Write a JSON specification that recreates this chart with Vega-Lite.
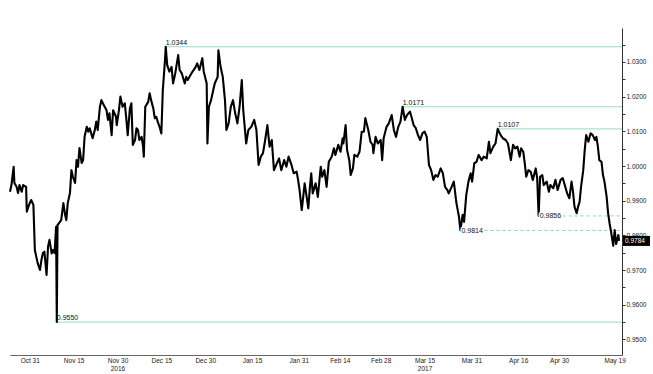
{
  "$schema": "https://vega.github.io/schema/vega-lite/v6.json",
  "width": 612,
  "height": 327,
  "autosize": {"type": "none"},
  "padding": {"left": 10, "top": 28, "right": 31, "bottom": 19},
  "background": "white",
  "config": {"view": {"stroke": null}, "font": "Liberation Sans"},
  "datasets": {
    "price": [
      {"date":"2016-10-24T06:00","value":0.9926},{"date":"2016-10-24T18:00","value":0.9945},{"date":"2016-10-25T12:00","value":0.9998},{"date":"2016-10-25T18:00","value":0.9951},{"date":"2016-10-26T12:00","value":0.9940},{"date":"2016-10-27T00:00","value":0.9922},{"date":"2016-10-27T12:00","value":0.9945},{"date":"2016-10-28T06:00","value":0.9926},{"date":"2016-10-28T18:00","value":0.9945},{"date":"2016-10-29T18:00","value":0.9940},{"date":"2016-10-30T00:00","value":0.9868},{"date":"2016-10-30T18:00","value":0.9888},{"date":"2016-10-31T12:00","value":0.9902},{"date":"2016-11-01T06:00","value":0.9888},{"date":"2016-11-01T18:00","value":0.9758},{"date":"2016-11-02T06:00","value":0.9738},{"date":"2016-11-02T18:00","value":0.9719},{"date":"2016-11-03T12:00","value":0.9700},{"date":"2016-11-04T00:00","value":0.9729},{"date":"2016-11-04T12:00","value":0.9749},{"date":"2016-11-05T00:00","value":0.9753},{"date":"2016-11-05T18:00","value":0.9686},{"date":"2016-11-06T06:00","value":0.9767},{"date":"2016-11-06T18:00","value":0.9787},{"date":"2016-11-07T12:00","value":0.9748},{"date":"2016-11-08T00:00","value":0.9758},{"date":"2016-11-08T12:00","value":0.9749},{"date":"2016-11-09T00:00","value":0.9825},{"date":"2016-11-09T06:00","value":0.9550},{"date":"2016-11-09T12:00","value":0.9830},{"date":"2016-11-10T00:00","value":0.9835},{"date":"2016-11-10T18:00","value":0.9844},{"date":"2016-11-11T12:00","value":0.9893},{"date":"2016-11-12T00:00","value":0.9864},{"date":"2016-11-12T12:00","value":0.9844},{"date":"2016-11-13T00:00","value":0.9893},{"date":"2016-11-13T18:00","value":0.9922},{"date":"2016-11-14T06:00","value":0.9988},{"date":"2016-11-14T18:00","value":0.9969},{"date":"2016-11-15T12:00","value":0.9951},{"date":"2016-11-16T00:00","value":1.0017},{"date":"2016-11-16T12:00","value":0.9998},{"date":"2016-11-17T00:00","value":1.0052},{"date":"2016-11-17T18:00","value":1.0009},{"date":"2016-11-18T06:00","value":1.0017},{"date":"2016-11-18T18:00","value":1.0084},{"date":"2016-11-19T12:00","value":1.0113},{"date":"2016-11-20T00:00","value":1.0099},{"date":"2016-11-20T12:00","value":1.0109},{"date":"2016-11-21T12:00","value":1.0080},{"date":"2016-11-22T06:00","value":1.0104},{"date":"2016-11-22T18:00","value":1.0128},{"date":"2016-11-23T06:00","value":1.0104},{"date":"2016-11-24T00:00","value":1.0171},{"date":"2016-11-24T12:00","value":1.0190},{"date":"2016-11-25T00:00","value":1.0181},{"date":"2016-11-26T06:00","value":1.0161},{"date":"2016-11-26T18:00","value":1.0133},{"date":"2016-11-27T06:00","value":1.0152},{"date":"2016-11-28T00:00","value":1.0089},{"date":"2016-11-28T12:00","value":1.0161},{"date":"2016-11-29T12:00","value":1.0142},{"date":"2016-11-29T18:00","value":1.0118},{"date":"2016-11-30T12:00","value":1.0161},{"date":"2016-12-01T00:00","value":1.0200},{"date":"2016-12-01T18:00","value":1.0171},{"date":"2016-12-02T12:00","value":1.0181},{"date":"2016-12-03T00:00","value":1.0138},{"date":"2016-12-03T12:00","value":1.0089},{"date":"2016-12-04T06:00","value":1.0166},{"date":"2016-12-04T18:00","value":1.0181},{"date":"2016-12-05T06:00","value":1.0061},{"date":"2016-12-06T00:00","value":1.0075},{"date":"2016-12-06T12:00","value":1.0109},{"date":"2016-12-07T00:00","value":1.0104},{"date":"2016-12-07T12:00","value":1.0075},{"date":"2016-12-08T06:00","value":1.0084},{"date":"2016-12-08T18:00","value":1.0056},{"date":"2016-12-09T00:00","value":1.0027},{"date":"2016-12-09T12:00","value":1.0171},{"date":"2016-12-10T12:00","value":1.0185},{"date":"2016-12-11T00:00","value":1.0210},{"date":"2016-12-11T12:00","value":1.0190},{"date":"2016-12-12T06:00","value":1.0166},{"date":"2016-12-12T18:00","value":1.0138},{"date":"2016-12-13T06:00","value":1.0142},{"date":"2016-12-13T18:00","value":1.0128},{"date":"2016-12-14T12:00","value":1.0110},{"date":"2016-12-15T00:00","value":1.0094},{"date":"2016-12-15T12:00","value":1.0219},{"date":"2016-12-16T06:00","value":1.0306},{"date":"2016-12-16T12:00","value":1.0344},{"date":"2016-12-17T00:00","value":1.0291},{"date":"2016-12-17T18:00","value":1.0272},{"date":"2016-12-18T12:00","value":1.0286},{"date":"2016-12-19T00:00","value":1.0238},{"date":"2016-12-19T18:00","value":1.0267},{"date":"2016-12-20T18:00","value":1.0320},{"date":"2016-12-21T06:00","value":1.0277},{"date":"2016-12-22T00:00","value":1.0267},{"date":"2016-12-23T00:00","value":1.0238},{"date":"2016-12-23T12:00","value":1.0257},{"date":"2016-12-24T00:00","value":1.0248},{"date":"2016-12-25T06:00","value":1.0267},{"date":"2016-12-26T12:00","value":1.0282},{"date":"2016-12-27T06:00","value":1.0296},{"date":"2016-12-28T00:00","value":1.0277},{"date":"2016-12-29T00:00","value":1.0311},{"date":"2016-12-29T12:00","value":1.0272},{"date":"2016-12-30T12:00","value":1.0238},{"date":"2016-12-30T18:00","value":1.0065},{"date":"2016-12-31T06:00","value":1.0171},{"date":"2017-01-01T00:00","value":1.0190},{"date":"2017-01-01T18:00","value":1.0219},{"date":"2017-01-02T06:00","value":1.0238},{"date":"2017-01-03T06:00","value":1.0257},{"date":"2017-01-03T12:00","value":1.0334},{"date":"2017-01-04T06:00","value":1.0286},{"date":"2017-01-05T00:00","value":1.0257},{"date":"2017-01-05T18:00","value":1.0190},{"date":"2017-01-06T06:00","value":1.0104},{"date":"2017-01-07T00:00","value":1.0123},{"date":"2017-01-07T18:00","value":1.0171},{"date":"2017-01-08T12:00","value":1.0190},{"date":"2017-01-09T06:00","value":1.0152},{"date":"2017-01-10T00:00","value":1.0123},{"date":"2017-01-10T18:00","value":1.0171},{"date":"2017-01-11T12:00","value":1.0248},{"date":"2017-01-12T00:00","value":1.0161},{"date":"2017-01-12T12:00","value":1.0113},{"date":"2017-01-13T00:00","value":1.0065},{"date":"2017-01-13T18:00","value":1.0104},{"date":"2017-01-14T18:00","value":1.0113},{"date":"2017-01-15T18:00","value":1.0133},{"date":"2017-01-16T12:00","value":1.0104},{"date":"2017-01-17T06:00","value":1.0003},{"date":"2017-01-18T00:00","value":1.0027},{"date":"2017-01-18T18:00","value":1.0037},{"date":"2017-01-19T12:00","value":1.0075},{"date":"2017-01-20T06:00","value":1.0118},{"date":"2017-01-21T00:00","value":1.0056},{"date":"2017-01-21T18:00","value":1.0075},{"date":"2017-01-22T12:00","value":0.9988},{"date":"2017-01-23T06:00","value":1.0003},{"date":"2017-01-24T06:00","value":1.0022},{"date":"2017-01-25T00:00","value":0.9988},{"date":"2017-01-26T00:00","value":1.0017},{"date":"2017-01-26T18:00","value":0.9998},{"date":"2017-01-27T12:00","value":1.0027},{"date":"2017-01-28T12:00","value":1.0003},{"date":"2017-01-29T06:00","value":0.9979},{"date":"2017-01-30T06:00","value":0.9984},{"date":"2017-01-30T18:00","value":0.9960},{"date":"2017-01-31T06:00","value":0.9931},{"date":"2017-02-01T00:00","value":0.9873},{"date":"2017-02-01T12:00","value":0.9911},{"date":"2017-02-02T00:00","value":0.9950},{"date":"2017-02-02T12:00","value":0.9921},{"date":"2017-02-03T06:00","value":0.9878},{"date":"2017-02-03T18:00","value":0.9935},{"date":"2017-02-04T06:00","value":0.9979},{"date":"2017-02-04T18:00","value":0.9921},{"date":"2017-02-05T18:00","value":0.9950},{"date":"2017-02-06T12:00","value":0.9911},{"date":"2017-02-07T12:00","value":0.9998},{"date":"2017-02-08T00:00","value":0.9969},{"date":"2017-02-08T18:00","value":0.9988},{"date":"2017-02-09T12:00","value":0.9940},{"date":"2017-02-10T06:00","value":1.0012},{"date":"2017-02-11T06:00","value":1.0027},{"date":"2017-02-12T00:00","value":1.0051},{"date":"2017-02-12T12:00","value":1.0032},{"date":"2017-02-13T12:00","value":1.0061},{"date":"2017-02-14T06:00","value":1.0041},{"date":"2017-02-15T00:00","value":1.0080},{"date":"2017-02-15T06:00","value":1.0065},{"date":"2017-02-16T00:00","value":1.0118},{"date":"2017-02-16T12:00","value":1.0046},{"date":"2017-02-17T06:00","value":1.0017},{"date":"2017-02-17T18:00","value":0.9974},{"date":"2017-02-18T12:00","value":0.9993},{"date":"2017-02-19T00:00","value":1.0032},{"date":"2017-02-20T00:00","value":1.0027},{"date":"2017-02-20T18:00","value":1.0041},{"date":"2017-02-21T12:00","value":1.0099},{"date":"2017-02-22T06:00","value":1.0099},{"date":"2017-02-22T18:00","value":1.0138},{"date":"2017-02-23T18:00","value":1.0104},{"date":"2017-02-24T12:00","value":1.0070},{"date":"2017-02-25T06:00","value":1.0061},{"date":"2017-02-25T12:00","value":1.0037},{"date":"2017-02-26T06:00","value":1.0084},{"date":"2017-02-27T00:00","value":1.0065},{"date":"2017-02-28T00:00","value":1.0075},{"date":"2017-02-28T12:00","value":1.0017},{"date":"2017-03-01T00:00","value":1.0080},{"date":"2017-03-02T00:00","value":1.0113},{"date":"2017-03-02T18:00","value":1.0123},{"date":"2017-03-03T18:00","value":1.0147},{"date":"2017-03-04T12:00","value":1.0104},{"date":"2017-03-05T06:00","value":1.0084},{"date":"2017-03-06T00:00","value":1.0113},{"date":"2017-03-06T18:00","value":1.0128},{"date":"2017-03-07T12:00","value":1.0171},{"date":"2017-03-08T06:00","value":1.0133},{"date":"2017-03-09T00:00","value":1.0147},{"date":"2017-03-10T00:00","value":1.0157},{"date":"2017-03-10T12:00","value":1.0142},{"date":"2017-03-11T06:00","value":1.0118},{"date":"2017-03-12T00:00","value":1.0109},{"date":"2017-03-12T18:00","value":1.0089},{"date":"2017-03-13T12:00","value":1.0075},{"date":"2017-03-14T06:00","value":1.0094},{"date":"2017-03-15T00:00","value":1.0099},{"date":"2017-03-15T18:00","value":1.0084},{"date":"2017-03-16T12:00","value":1.0003},{"date":"2017-03-17T06:00","value":0.9988},{"date":"2017-03-18T00:00","value":0.9960},{"date":"2017-03-18T18:00","value":0.9974},{"date":"2017-03-19T12:00","value":0.9969},{"date":"2017-03-20T12:00","value":0.9993},{"date":"2017-03-21T06:00","value":0.9979},{"date":"2017-03-22T00:00","value":0.9940},{"date":"2017-03-22T18:00","value":0.9931},{"date":"2017-03-23T06:00","value":0.9921},{"date":"2017-03-24T06:00","value":0.9940},{"date":"2017-03-25T00:00","value":0.9955},{"date":"2017-03-25T18:00","value":0.9902},{"date":"2017-03-26T00:00","value":0.9888},{"date":"2017-03-26T18:00","value":0.9854},{"date":"2017-03-27T06:00","value":0.9814},{"date":"2017-03-28T00:00","value":0.9859},{"date":"2017-03-28T12:00","value":0.9839},{"date":"2017-03-29T06:00","value":0.9916},{"date":"2017-03-30T00:00","value":0.9955},{"date":"2017-03-30T18:00","value":0.9979},{"date":"2017-03-31T06:00","value":0.9955},{"date":"2017-04-01T00:00","value":1.0008},{"date":"2017-04-01T18:00","value":1.0012},{"date":"2017-04-02T12:00","value":1.0032},{"date":"2017-04-03T12:00","value":1.0017},{"date":"2017-04-04T06:00","value":1.0027},{"date":"2017-04-05T06:00","value":1.0022},{"date":"2017-04-06T00:00","value":1.0070},{"date":"2017-04-06T12:00","value":1.0037},{"date":"2017-04-07T12:00","value":1.0056},{"date":"2017-04-08T06:00","value":1.0065},{"date":"2017-04-09T00:00","value":1.0107},{"date":"2017-04-10T00:00","value":1.0089},{"date":"2017-04-10T18:00","value":1.0080},{"date":"2017-04-11T18:00","value":1.0075},{"date":"2017-04-12T12:00","value":1.0065},{"date":"2017-04-13T12:00","value":1.0017},{"date":"2017-04-14T06:00","value":1.0061},{"date":"2017-04-15T00:00","value":1.0051},{"date":"2017-04-15T18:00","value":1.0056},{"date":"2017-04-16T12:00","value":1.0027},{"date":"2017-04-17T00:00","value":1.0051},{"date":"2017-04-17T18:00","value":1.0041},{"date":"2017-04-18T06:00","value":1.0008},{"date":"2017-04-18T18:00","value":0.9969},{"date":"2017-04-19T12:00","value":0.9988},{"date":"2017-04-20T06:00","value":0.9984},{"date":"2017-04-21T00:00","value":0.9960},{"date":"2017-04-22T00:00","value":0.9993},{"date":"2017-04-22T12:00","value":0.9965},{"date":"2017-04-23T00:00","value":0.9856},{"date":"2017-04-23T12:00","value":0.9969},{"date":"2017-04-24T06:00","value":0.9974},{"date":"2017-04-24T18:00","value":0.9945},{"date":"2017-04-25T18:00","value":0.9955},{"date":"2017-04-26T12:00","value":0.9926},{"date":"2017-04-27T00:00","value":0.9945},{"date":"2017-04-28T00:00","value":0.9936},{"date":"2017-04-28T18:00","value":0.9960},{"date":"2017-04-29T12:00","value":0.9931},{"date":"2017-04-30T12:00","value":0.9960},{"date":"2017-05-01T06:00","value":0.9965},{"date":"2017-05-02T06:00","value":0.9936},{"date":"2017-05-02T18:00","value":0.9921},{"date":"2017-05-03T12:00","value":0.9907},{"date":"2017-05-04T06:00","value":0.9955},{"date":"2017-05-04T18:00","value":0.9926},{"date":"2017-05-05T06:00","value":0.9883},{"date":"2017-05-06T00:00","value":0.9864},{"date":"2017-05-06T12:00","value":0.9883},{"date":"2017-05-07T00:00","value":0.9897},{"date":"2017-05-07T12:00","value":0.9940},{"date":"2017-05-08T06:00","value":0.9988},{"date":"2017-05-08T18:00","value":1.0046},{"date":"2017-05-09T06:00","value":1.0089},{"date":"2017-05-10T00:00","value":1.0070},{"date":"2017-05-10T18:00","value":1.0094},{"date":"2017-05-11T12:00","value":1.0089},{"date":"2017-05-12T06:00","value":1.0075},{"date":"2017-05-12T18:00","value":1.0084},{"date":"2017-05-13T06:00","value":1.0056},{"date":"2017-05-13T18:00","value":1.0017},{"date":"2017-05-14T12:00","value":1.0012},{"date":"2017-05-15T00:00","value":0.9974},{"date":"2017-05-15T12:00","value":0.9955},{"date":"2017-05-16T06:00","value":0.9911},{"date":"2017-05-16T18:00","value":0.9864},{"date":"2017-05-17T06:00","value":0.9835},{"date":"2017-05-17T18:00","value":0.9811},{"date":"2017-05-18T12:00","value":0.9770},{"date":"2017-05-19T00:00","value":0.9815},{"date":"2017-05-19T12:00","value":0.9775},{"date":"2017-05-20T06:00","value":0.9801},{"date":"2017-05-20T12:00","value":0.9784}
    ],
    "levels": [
      {"date":"2016-12-16T12:00","value":1.0344,"style":"solid"},
      {"date":"2017-03-07T12:00","value":1.0171,"style":"solid"},
      {"date":"2017-04-09T00:00","value":1.0107,"style":"solid"},
      {"date":"2016-11-09T06:00","value":0.9550,"style":"solid"},
      {"date":"2017-04-23T00:00","value":0.9856,"style":"dashed"},
      {"date":"2017-03-27T06:00","value":0.9814,"style":"dashed"}
    ]
  },
  "encoding": {
    "x": {
      "field": "date",
      "type": "temporal",
      "scale": {"domain": [{"year":2016,"month":10,"date":24,"hours":6},{"year":2017,"month":5,"date":21,"hours":12}]},
      "axis": {
        "title": null,
        "grid": false,
        "ticks": false,
        "values": [
          {"year":2016,"month":10,"date":31},{"year":2016,"month":11,"date":15},{"year":2016,"month":11,"date":30},{"year":2016,"month":12,"date":15},{"year":2016,"month":12,"date":30},{"year":2017,"month":1,"date":15},{"year":2017,"month":1,"date":31},{"year":2017,"month":2,"date":14},{"year":2017,"month":2,"date":28},{"year":2017,"month":3,"date":15},{"year":2017,"month":3,"date":31},{"year":2017,"month":4,"date":16},{"year":2017,"month":4,"date":30},{"year":2017,"month":5,"date":19}
        ],
        "labelExpr": "timeFormat(datum.value,'%b %d') == 'Nov 30' ? ['Nov 30','2016'] : timeFormat(datum.value,'%b %d') == 'Mar 15' ? ['Mar 15','2017'] : timeFormat(datum.value,'%b %d')",
        "labelFontSize": 6.5,
        "labelFont": "Liberation Sans",
        "labelColor": "#222222",
        "labelPadding": 2,
        "labelLineHeight": 8,
        "labelOverlap": false,
        "labelFlush": false,
        "domainColor": "#666666",
        "domainWidth": 1
      }
    },
    "y": {
      "field": "value",
      "type": "quantitative",
      "scale": {"domain": [0.9455, 1.0398], "nice": false, "zero": false},
      "axis": {
        "orient": "right",
        "title": null,
        "grid": false,
        "values": [0.95,0.955,0.96,0.965,0.97,0.975,0.98,0.985,0.99,0.995,1.0,1.005,1.01,1.015,1.02,1.025,1.03,1.035],
        "labelExpr": "round(datum.value*1000) % 10 == 0 ? format(datum.value, '.4f') : ''",
        "labelFontSize": 6.5,
        "labelFont": "Liberation Sans",
        "labelColor": "#222222",
        "labelPadding": 1,
        "tickSize": 3,
        "tickColor": "#333333",
        "domainColor": "#333333",
        "domainWidth": 1,
        "labelOverlap": false,
        "labelFlush": false
      }
    }
  },
  "layer": [
    {
      "data": {"name": "levels"},
      "mark": {"type": "rule", "color": "#86d6bb", "strokeWidth": 1},
      "encoding": {
        "x2": {"datum": {"year":2017,"month":5,"date":21,"hours":12}},
        "strokeDash": {"field": "style", "type": "nominal", "scale": {"domain": ["solid","dashed"], "range": [[1,0],[3,3]]}, "legend": null}
      }
    },
    {
      "data": {"name": "price"},
      "mark": {"type": "line", "color": "#000000", "strokeWidth": 2.1, "strokeJoin": "round"}
    },
    {
      "data": {"name": "levels"},
      "transform": [{"filter": "datum.style == 'dashed'"}],
      "mark": {"type": "text", "align": "left", "baseline": "middle", "dx": 1, "fontSize": 7, "font": "Liberation Sans", "fill": "white", "stroke": "white", "strokeWidth": 3},
      "encoding": {"text": {"field": "value", "type": "quantitative", "format": ".4f"}}
    },
    {
      "data": {"name": "levels"},
      "transform": [{"filter": "datum.style == 'dashed'"}],
      "mark": {"type": "text", "align": "left", "baseline": "middle", "dx": 1, "fontSize": 7, "font": "Liberation Sans", "color": "#111111"},
      "encoding": {"text": {"field": "value", "type": "quantitative", "format": ".4f"}}
    },
    {
      "data": {"name": "levels"},
      "transform": [{"filter": "datum.style == 'solid'"}],
      "mark": {"type": "text", "align": "left", "baseline": "bottom", "dx": 0, "dy": -1, "fontSize": 7, "font": "Liberation Sans", "color": "#111111"},
      "encoding": {"text": {"field": "value", "type": "quantitative", "format": ".4f"}}
    },
    {
      "data": {"name": "price"},
      "transform": [
        {"window": [{"op": "row_number", "as": "rn"}], "sort": [{"field": "date", "order": "descending"}]},
        {"filter": "datum.rn == 1"}
      ],
      "mark": {"type": "point", "shape": "M0.2,-1L5.6,-1L5.6,1L0.2,1Z", "size": 100, "filled": true, "fill": "#000000", "stroke": null, "opacity": 1},
      "encoding": {
        "x": {"datum": {"year":2017,"month":5,"date":21,"hours":12}, "type": "temporal"}
      }
    },
    {
      "data": {"name": "price"},
      "transform": [
        {"window": [{"op": "row_number", "as": "rn"}], "sort": [{"field": "date", "order": "descending"}]},
        {"filter": "datum.rn == 1"}
      ],
      "mark": {"type": "text", "align": "left", "baseline": "middle", "dx": 3, "fontSize": 6.5, "font": "Liberation Sans", "color": "#ffffff"},
      "encoding": {
        "x": {"datum": {"year":2017,"month":5,"date":21,"hours":12}, "type": "temporal"},
        "text": {"field": "value", "type": "quantitative", "format": ".4f"}
      }
    }
  ]
}
